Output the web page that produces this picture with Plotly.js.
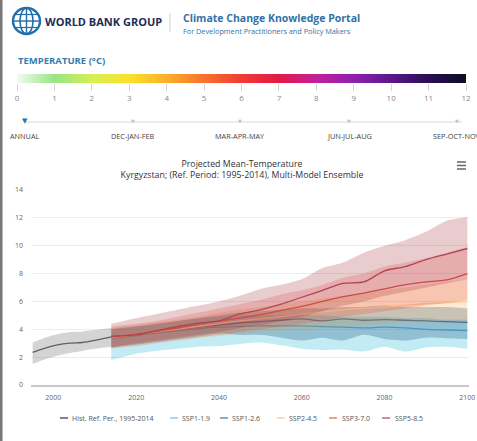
<!DOCTYPE html>
<html>
<head>
<meta charset="utf-8">
<script src="https://cdn.plot.ly/plotly-3.0.1.min.js"></script>
<style>
html,body{margin:0;padding:0;background:#fff;overflow:hidden;}
#chart{width:477px;height:441px;}
</style>
</head>
<body>
<div id="chart"></div>
<script>
// ---------------- data ----------------
const histYears = [1995, 1998, 2001, 2004, 2007, 2010, 2014];
const histMedian = [2.35, 2.65, 2.88, 3.0, 3.05, 3.2, 3.45];
const histUpper  = [3.05, 3.4, 3.65, 3.8, 3.85, 3.95, 4.1];
const histLower  = [1.5, 1.85, 2.1, 2.3, 2.45, 2.6, 2.75];

const projYears = [2014,2020,2025,2030,2035,2040,2045,2050,2055,2060,2065,2070,2075,2080,2085,2090,2095,2100];

const ssp119Median = [3.35,3.55,3.75,3.9,4.05,4.15,4.2,4.25,4.25,4.25,4.2,4.15,4.1,4.15,4.1,4.0,3.95,3.9];
const ssp119Upper  = [4.0,4.2,4.4,4.6,4.8,4.9,5.0,5.0,5.0,5.0,5.0,4.9,4.9,4.9,4.8,4.8,4.7,4.7];
const ssp119Lower  = [1.8,2.25,2.45,2.6,2.75,2.8,2.95,3.05,2.85,2.6,2.5,2.55,2.4,2.75,2.4,2.7,2.75,2.6];

const ssp126Median = [3.4,3.6,3.8,4.0,4.15,4.3,4.45,4.55,4.65,4.75,4.6,4.75,4.65,4.7,4.65,4.6,4.55,4.5];
const ssp126Upper  = [4.0,4.2,4.4,4.6,4.8,5.0,5.2,5.3,5.4,5.5,5.5,5.6,5.6,5.7,5.6,5.6,5.6,5.5];
const ssp126Lower  = [2.7,2.9,3.1,3.3,3.5,3.7,3.6,3.6,3.4,3.2,3.4,3.2,3.6,3.3,3.2,3.4,3.35,3.3];

const ssp245Median = [3.4,3.6,3.8,4.0,4.2,4.4,4.6,4.75,4.9,5.1,5.25,5.4,5.5,5.6,5.7,5.85,5.9,6.0];
const ssp245Upper  = [4.1,4.3,4.5,4.7,4.9,5.2,5.4,5.6,5.8,6.0,6.2,6.4,6.6,6.8,7.0,7.2,7.4,7.6];
const ssp245Lower  = [2.7,2.9,3.1,3.3,3.4,3.5,3.7,3.8,3.9,4.0,4.1,4.2,4.3,4.4,4.5,4.5,4.6,4.6];

const ssp370Median = [3.45,3.65,3.85,4.1,4.35,4.6,4.8,5.05,5.35,5.65,6.0,6.35,6.6,6.9,7.2,7.4,7.55,8.0];
const ssp370Upper  = [4.2,4.4,4.6,4.9,5.2,5.5,5.8,6.1,6.5,6.8,7.2,7.7,8.0,8.5,8.8,9.1,9.5,9.9];
const ssp370Lower  = [2.6,2.8,3.0,3.2,3.4,3.6,3.8,4.0,4.2,4.4,4.6,4.9,5.1,5.3,5.5,5.7,5.9,6.1];

const ssp585Median = [3.5,3.6,3.9,4.2,4.45,4.6,5.1,5.4,5.8,6.3,6.8,7.3,7.4,8.2,8.5,9.0,9.4,9.8];
const ssp585Upper  = [4.4,4.8,5.1,5.4,5.7,6.0,6.4,6.9,7.2,7.6,8.4,8.8,9.5,10.0,10.4,11.0,11.8,12.05];
const ssp585Lower  = [2.7,3.0,3.2,3.4,3.6,3.8,4.1,4.3,4.6,4.9,5.3,5.7,6.0,6.4,6.7,7.0,7.3,7.6];

const seriesNames = ['Hist. Ref. Per., 1995-2014','SSP1-1.9','SSP1-2.6','SSP2-4.5','SSP3-7.0','SSP5-8.5'];
const xTicks = [2000, 2020, 2040, 2060, 2080, 2100];
const yTicks = [0, 2, 4, 6, 8, 10, 12, 14];
const tempTicks = [0,1,2,3,4,5,6,7,8,9,10,11,12];
const tempColors = ['#f1fbee','#97e584','#d6f054','#fbe12a','#fbad2a','#f8712c','#f23a34','#e01a47','#c2219c','#8f1fb0','#5a1788','#280e52','#0e0c22'];
const seasons = ['ANNUAL','DEC-JAN-FEB','MAR-APR-MAY','JUN-JUL-AUG','SEP-OCT-NOV'];

// ---------------- helpers ----------------
const W = 477, H = 441;
const px = x => x / W;
const py = y => 1 - y / H;
const FONT = 'Open Sans, Noto Sans, sans-serif';

const lineColors = ['rgb(95,95,95)','rgb(85,180,215)','rgb(70,110,145)','rgb(248,205,150)','rgb(222,85,72)','rgb(178,68,82)'];
const bandColors = ['rgba(120,120,120,0.32)','rgba(0,173,207,0.24)','rgba(40,90,135,0.3)','rgba(247,148,32,0.2)','rgba(231,50,40,0.2)','rgba(165,40,50,0.24)'];
const legendColors = ['rgb(90,90,90)','rgb(140,205,235)','rgb(110,140,175)','rgb(250,210,165)','rgb(235,125,115)','rgb(200,100,120)'];

const groups = [
  [histYears, histLower, histUpper, histMedian],
  [projYears, ssp119Lower, ssp119Upper, ssp119Median],
  [projYears, ssp126Lower, ssp126Upper, ssp126Median],
  [projYears, ssp245Lower, ssp245Upper, ssp245Median],
  [projYears, ssp370Lower, ssp370Upper, ssp370Median],
  [projYears, ssp585Lower, ssp585Upper, ssp585Median]
];

const traces = [];
groups.forEach((g, i) => {
  traces.push({x: g[0], y: g[1], type: 'scatter', mode: 'lines', line: {width: 0, shape: 'spline', smoothing: 0.8}, hoverinfo: 'skip', showlegend: false});
  traces.push({x: g[0], y: g[2], type: 'scatter', mode: 'lines', fill: 'tonexty', fillcolor: bandColors[i], line: {width: 0, shape: 'spline', smoothing: 0.8}, hoverinfo: 'skip', showlegend: false});
  traces.push({x: g[0], y: g[3], type: 'scatter', mode: 'lines', name: seriesNames[i], line: {width: 1.3, color: lineColors[i], shape: 'spline', smoothing: 0.8}, showlegend: false});
});

// colour scale bar
const cs = tempTicks.map((t, i) => [t / 12, tempColors[i]]);
traces.push({type: 'heatmap', x: tempTicks, y: [0], z: [tempTicks], colorscale: cs, zmin: 0, zmax: 12, zsmooth: 'best', showscale: false, xaxis: 'x2', yaxis: 'y2', hoverinfo: 'skip'});

// ---------------- decorations ----------------
const shapes = [];
const annotations = [];

// left frame border
shapes.push({type: 'rect', xref: 'paper', yref: 'paper', x0: 0, x1: px(2.5), y0: 0, y1: 1, fillcolor: 'rgb(120,120,120)', line: {width: 0}, layer: 'above'});

// globe logo
const gc = 'rgb(35,110,170)';
shapes.push({type: 'circle', xref: 'paper', yref: 'paper', x0: px(13), x1: px(40), y0: py(34), y1: py(8), line: {color: gc, width: 2.4}});
shapes.push({type: 'circle', xref: 'paper', yref: 'paper', x0: px(20), x1: px(33), y0: py(34), y1: py(8), line: {color: gc, width: 1.6}});
shapes.push({type: 'line', xref: 'paper', yref: 'paper', x0: px(26.5), x1: px(26.5), y0: py(34), y1: py(8), line: {color: gc, width: 1.4}});
shapes.push({type: 'line', xref: 'paper', yref: 'paper', x0: px(14), x1: px(39), y0: py(21), y1: py(21), line: {color: gc, width: 1.4}});
shapes.push({type: 'line', xref: 'paper', yref: 'paper', x0: px(16), x1: px(37), y0: py(14.5), y1: py(14.5), line: {color: gc, width: 1.2}});
shapes.push({type: 'line', xref: 'paper', yref: 'paper', x0: px(16), x1: px(37), y0: py(27.5), y1: py(27.5), line: {color: gc, width: 1.2}});

annotations.push({xref: 'paper', yref: 'paper', x: px(43), y: py(22), xanchor: 'left', yanchor: 'middle', showarrow: false, text: '<b>WORLD BANK GROUP</b>', font: {family: FONT, size: 11, color: 'rgb(28,45,88)'}});
shapes.push({type: 'line', xref: 'paper', yref: 'paper', x0: px(170), x1: px(170), y0: py(13), y1: py(32), line: {color: '#cfcfcf', width: 1}});
annotations.push({xref: 'paper', yref: 'paper', x: px(181), y: py(18), xanchor: 'left', yanchor: 'middle', showarrow: false, text: '<b>Climate Change Knowledge Portal</b>', font: {family: FONT, size: 10.5, color: 'rgb(50,115,165)'}});
annotations.push({xref: 'paper', yref: 'paper', x: px(181), y: py(31), xanchor: 'left', yanchor: 'middle', showarrow: false, text: 'For Development Practitioners and Policy Makers', font: {family: FONT, size: 7.3, color: 'rgb(50,115,165)'}});

annotations.push({xref: 'paper', yref: 'paper', x: px(16), y: py(61), xanchor: 'left', yanchor: 'middle', showarrow: false, text: '<b>TEMPERATURE (°C)</b>', font: {family: FONT, size: 9.5, color: 'rgb(55,125,175)'}});

// season selector
shapes.push({type: 'line', xref: 'paper', yref: 'paper', x0: px(25), x1: px(462), y0: py(122), y1: py(122), line: {color: '#d8d8d8', width: 1}});
const seasonX = [25, 133, 240, 349, 457];
seasons.forEach((s, i) => {
  annotations.push({xref: 'paper', yref: 'paper', x: px(seasonX[i]), y: py(121), xanchor: 'center', yanchor: 'middle', showarrow: false, text: '▼', font: {family: 'DejaVu Sans', size: i === 0 ? 7 : 5, color: i === 0 ? 'rgb(30,120,175)' : '#c4c4c4'}});
  annotations.push({xref: 'paper', yref: 'paper', x: px(seasonX[i]), y: py(135.5), xanchor: 'center', yanchor: 'middle', showarrow: false, text: s, font: {family: FONT, size: 7.3, color: '#444'}});
});

// hamburger menu
[162, 165.5, 169].forEach(yy => shapes.push({type: 'line', xref: 'paper', yref: 'paper', x0: px(457), x1: px(466), y0: py(yy), y1: py(yy), line: {color: '#666', width: 1.5}}));

// legend
const legendPos = [[60, 70], [170, 180], [220, 230], [277, 287], [329, 340], [382, 393]];
seriesNames.forEach((n, i) => {
  shapes.push({type: 'line', xref: 'paper', yref: 'paper', x0: px(legendPos[i][0]), x1: px(legendPos[i][0] + 8), y0: py(418), y1: py(418), line: {color: legendColors[i], width: 1.5}});
  annotations.push({xref: 'paper', yref: 'paper', x: px(legendPos[i][1]), y: py(418), xanchor: 'left', yanchor: 'middle', showarrow: false, text: n, font: {family: FONT, size: 7, color: '#555'}});
});

const layout = {
  width: W, height: H,
  margin: {l: 0, r: 0, t: 0, b: 0},
  paper_bgcolor: '#fff', plot_bgcolor: '#fff',
  font: {family: FONT},
  showlegend: false,
  title: {text: 'Projected Mean-Temperature<br>Kyrgyzstan; (Ref. Period: 1995-2014), Multi-Model Ensemble', x: px(242), xanchor: 'center', y: py(167), yanchor: 'middle', font: {family: FONT, size: 8.8, color: '#333'}},
  xaxis: {domain: [px(31), px(469)], range: [1994.6, 2100.4], tickvals: xTicks, showgrid: false, zeroline: false, showline: true, linecolor: '#c8c8c8', linewidth: 2, ticks: '', tickfont: {size: 7, color: '#666'}, ticklabelstandoff: 5, anchor: 'y'},
  yaxis: {domain: [py(385), py(190)], range: [0, 14], tickvals: yTicks, showgrid: true, gridcolor: '#ececec', gridwidth: 1, zeroline: false, showline: false, ticks: '', tickfont: {size: 7, color: '#666'}, ticklabelstandoff: 7, anchor: 'x'},
  xaxis2: {domain: [px(17), px(466)], range: [0, 12], tickvals: tempTicks, ticks: 'outside', ticklen: 7, tickcolor: '#d5d5d5', tickfont: {size: 8, color: '#888'}, showgrid: false, zeroline: false, showline: false, anchor: 'y2', fixedrange: true},
  yaxis2: {domain: [py(83), py(74)], range: [-0.5, 0.5], visible: false, anchor: 'x2', fixedrange: true},
  shapes: shapes,
  annotations: annotations
};

Plotly.newPlot('chart', traces, layout, {displayModeBar: false, staticPlot: true});
</script>
</body>
</html>
